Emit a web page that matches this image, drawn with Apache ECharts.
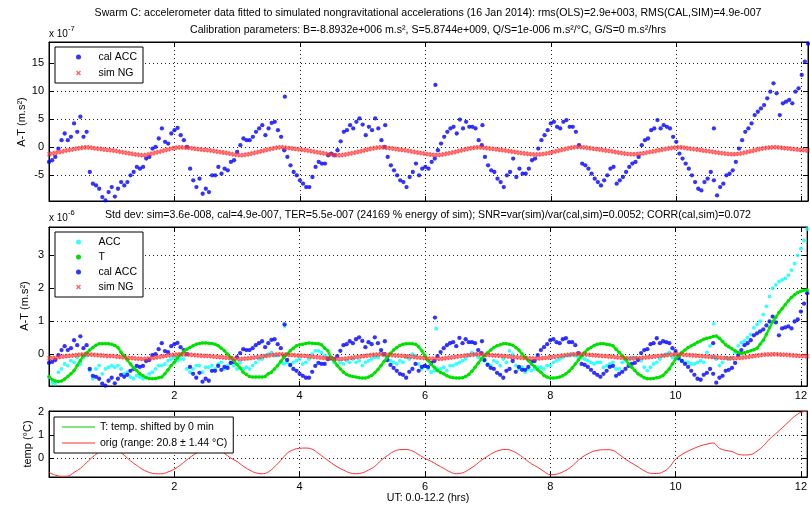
<!DOCTYPE html>
<html><head><meta charset="utf-8">
<script src="https://cdn.jsdelivr.net/npm/echarts@6/dist/echarts.min.js"></script>
<style>html,body{margin:0;padding:0;background:#fff}#c{width:810px;height:506px}</style>
</head><body><div id="c"></div>
<script>
// ---- sampling grid (hours) ----
const dt = 0.05;        // sample step of the accelerometer series
const tempDt = 0.1;     // sample step of the temperature series
const xMax = 12.1;
const xTicks = [0, 2, 4, 6, 8, 10, 12];
const xTickLabels = [2, 4, 6, 8, 10, 12];
const topTicks = [-5, 0, 5, 10, 15];
const midTicks = [0, 1, 2, 3];
const botTicks = [0, 1, 2];

// cal ACC, units 1e-7 m/s^2 (top panel); the middle panel shows the same in 1e-6
const calAcc = [
 -2.7,-2.4,-1.8,-0.3,1.2,2.4,1.2,1.8,4.2,2.7,
 5.4,1.8,2.7,-4.5,-6.6,-6.9,-7.5,-9.0,-9.6,-8.1,
 -7.2,-8.9,-7.5,-6.3,-6.9,-6.3,-5.1,-4.5,-3.6,-3.9,
 -3.6,-2.1,-1.8,-0.3,0.0,1.5,3.3,0.9,0.6,2.4,
 3.0,3.4,2.1,1.2,0.0,-3.9,-6.0,-7.2,-5.7,-8.4,
 -7.5,-8.1,-5.1,-5.1,-3.6,-4.8,-3.9,-4.2,-2.7,-2.4,
 -0.9,0.3,1.5,1.2,1.2,1.8,2.7,3.3,3.9,2.1,
 3.3,4.3,4.5,3.0,1.8,-0.6,-1.8,-3.3,-4.5,-5.1,
 -6.0,-6.6,-7.2,-7.2,-5.4,-3.6,-2.7,-3.0,-3.0,-1.5,
 -1.2,-1.5,-0.6,1.0,2.7,3.0,3.9,3.3,4.5,5.1,
 4.0,2.1,3.6,3.0,5.1,3.3,1.2,0.0,-1.8,-3.3,
 -4.2,-5.1,-6.0,-6.3,-7.2,-5.4,-4.5,-3.0,-5.1,-3.9,
 -3.6,-3.9,-2.7,-2.1,-0.6,0.6,1.8,2.7,3.3,3.6,
 2.4,4.9,3.3,4.5,3.6,3.6,3.3,1.2,0.3,-1.8,
 -3.3,-4.2,-4.5,-5.7,-6.3,-7.2,-5.1,-4.5,-2.1,-5.4,
 -3.9,-4.8,-4.8,-3.9,-2.4,-2.1,-0.3,1.2,2.1,3.0,
 4.2,4.5,3.6,3.3,4.5,4.8,3.6,3.6,2.7,0.3,
 -3.0,-3.3,-3.9,-4.8,-5.7,-6.3,-6.9,-6.0,-5.1,-3.9,
 -3.6,-6.6,-6.0,-5.4,-4.5,-3.6,-3.0,-2.7,-1.8,0.3,
 1.2,1.5,3.0,3.3,4.8,3.3,3.9,3.6,3.3,1.8,
 0.9,-1.2,-2.1,-3.0,-3.9,-5.1,-6.3,-7.5,-7.8,-6.3,
 -5.7,-4.5,-6.0,-8.7,-7.2,-6.6,-5.1,-4.8,-4.2,-2.7,
 -0.3,1.2,2.7,3.3,4.2,5.7,6.3,6.9,7.5,8.7,
 9.9,11.4,9.6,5.7,7.8,8.1,8.4,7.8,9.9,10.5,
 12.9,15.3,18.5
];
const calAccOutliers = [[3.76, 9.0], [5.36, 3.9], [6.16, 11.1], [6.91, 3.9], [10.6, 3.3]];

// sim NG, units 1e-7 m/s^2
const simNG = [
 -1.3,-1.2,-1.1,-0.95,-0.85,-0.7,-0.6,-0.5,-0.4,-0.3,-0.2,-0.12,-0.08,
 -0.12,-0.2,-0.28,-0.35,-0.42,-0.5,-0.56,-0.62,-0.7,-0.8,-0.9,-1.0,-1.1,-1.2,-1.3,-1.38,-1.45,-1.5,
 -1.45,-1.32,-1.18,-1.02,-0.9,-0.75,-0.6,-0.45,-0.3,-0.2,-0.13,-0.08,
 -0.1,-0.15,-0.22,-0.3,-0.36,-0.42,-0.5,-0.56,-0.62,-0.7,-0.78,-0.86,-0.95,-1.05,-1.15,-1.25,-1.35,-1.42,-1.48,
 -1.45,-1.38,-1.28,-1.15,-1.0,-0.88,-0.75,-0.6,-0.45,-0.32,-0.2,-0.12,-0.08,
 -0.12,-0.18,-0.25,-0.32,-0.4,-0.46,-0.54,-0.62,-0.7,-0.8,-0.9,-1.0,-1.1,-1.2,-1.3,-1.38,-1.44,-1.5,
 -1.48,-1.42,-1.32,-1.2,-1.08,-0.95,-0.82,-0.68,-0.55,-0.42,-0.3,-0.2,-0.12,-0.05,
 -0.1,-0.18,-0.26,-0.34,-0.42,-0.5,-0.58,-0.66,-0.75,-0.85,-0.95,-1.05,-1.15,-1.25,-1.33,-1.4,-1.45,
 -1.45,-1.4,-1.32,-1.2,-1.08,-0.95,-0.82,-0.68,-0.55,-0.42,-0.3,-0.2,-0.12,-0.08,
 -0.12,-0.18,-0.25,-0.32,-0.4,-0.46,-0.54,-0.62,-0.7,-0.78,-0.86,-0.95,-1.05,-1.12,-1.2,-1.28,-1.33,-1.35,
 -1.35,-1.3,-1.22,-1.12,-1.0,-0.88,-0.75,-0.6,-0.46,-0.32,-0.2,-0.1,-0.03,0.0,
 -0.05,-0.12,-0.2,-0.28,-0.36,-0.44,-0.52,-0.6,-0.68,-0.76,-0.85,-0.95,-1.05,-1.15,-1.22,-1.28,-1.32,
 -1.3,-1.25,-1.18,-1.08,-0.98,-0.88,-0.78,-0.66,-0.55,-0.44,-0.34,-0.24,-0.16,-0.1,-0.08,
 -0.12,-0.2,-0.28,-0.36,-0.44,-0.52,-0.6,-0.68,-0.76,-0.84,-0.92,-1.0,-1.08,-1.16,-1.22,-1.28,-1.3,
 -1.28,-1.22,-1.12,-1.0,-0.88,-0.75,-0.6,-0.46,-0.34,-0.24,-0.16,-0.1,-0.06,
 -0.08,-0.12,-0.18,-0.24,-0.3,-0.36,-0.42,-0.5,-0.56,-0.62,-0.68
];

// ACC (raw), units 1e-6 m/s^2
const acc = [
 -0.7,-0.88,-0.9,-0.55,-0.45,-0.3,-0.35,-0.2,-0.25,-0.1,
 -0.3,-0.1,-0.05,-0.5,-0.75,-0.45,-0.35,-0.6,-0.45,-0.4,
 -0.35,-0.4,-0.35,-0.45,-0.6,-0.55,-0.7,-0.75,-0.65,-0.7,
 -0.75,-0.7,-0.6,-0.55,-0.45,-0.35,-0.35,-0.3,-0.2,-0.15,
 -0.1,-0.2,-0.15,-0.15,-0.45,-0.55,-0.45,-0.35,-0.35,-0.55,
 -0.4,-0.4,-0.35,-0.45,-0.3,-0.25,-0.45,-0.35,-0.25,-0.35,
 -0.45,-0.25,-0.45,-0.4,-0.45,-0.35,-0.25,-0.15,-0.15,-0.05,
 0.0,0.05,-0.05,-0.05,-0.25,-0.3,-0.25,-0.35,-0.25,-0.2,
 -0.15,-0.3,-0.25,-0.15,0.0,0.1,0.1,0.05,-0.05,-0.1,
 -0.15,-0.25,-0.35,-0.25,-0.3,-0.2,-0.25,-0.15,-0.25,-0.2,
 -0.35,-0.25,-0.2,-0.15,-0.1,-0.1,0.05,-0.05,-0.1,-0.2,
 -0.25,-0.3,-0.2,-0.25,-0.1,-0.15,0.0,-0.05,-0.3,-0.45,
 -0.35,-0.45,-0.55,-0.5,-0.45,-0.45,-0.4,-0.5,-0.35,-0.35,
 -0.3,-0.25,-0.2,-0.15,-0.05,0.05,0.0,-0.1,-0.15,-0.2,
 -0.3,-0.35,-0.2,-0.25,-0.35,-0.15,-0.25,0.1,0.0,-0.35,
 -0.45,-0.4,-0.55,-0.45,-0.5,-0.45,-0.4,-0.4,-0.45,-0.35,
 -0.35,-0.25,-0.2,-0.15,-0.1,-0.05,-0.05,0.0,-0.05,-0.1,
 -0.1,-0.15,-0.2,-0.25,-0.3,-0.25,-0.25,-0.4,-0.35,-0.3,
 -0.25,-0.45,-0.45,-0.25,-0.2,-0.15,-0.1,-0.1,-0.15,-0.2,
 -0.4,-0.5,-0.4,-0.3,-0.25,-0.15,-0.05,0.0,0.05,-0.1,
 -0.05,-0.15,-0.2,-0.25,-0.25,-0.3,-0.3,-0.25,-0.2,-0.25,
 0.05,0.25,-0.1,-0.15,-0.35,-0.25,-0.1,-0.15,-0.1,0.05,
 0.25,0.35,0.4,0.5,0.6,0.8,0.9,1.0,1.2,1.45,
 1.75,2.0,2.1,2.2,2.25,2.3,2.4,2.55,2.75,3.0,
 3.2,3.45,3.8
];
const accOutliers = [[3.76, 0.85], [6.18, 0.77], [10.61, 0.92]];

// T (temperature term), units 1e-6 m/s^2
const tTerm = [
 -0.68,-0.78,-0.82,-0.83,-0.82,-0.76,-0.68,-0.6,-0.5,-0.35,
 -0.2,-0.05,0.03,0.12,0.2,0.27,0.31,0.31,0.31,0.31,
 0.3,0.26,0.2,0.05,-0.05,-0.18,-0.3,-0.42,-0.5,-0.6,
 -0.66,-0.72,-0.74,-0.75,-0.74,-0.72,-0.7,-0.6,-0.48,-0.35,
 -0.25,-0.12,-0.02,0.08,0.15,0.2,0.25,0.3,0.32,0.34,
 0.34,0.33,0.32,0.3,0.25,0.18,0.1,0.0,-0.1,-0.2,
 -0.32,-0.42,-0.55,-0.62,-0.68,-0.7,-0.7,-0.7,-0.7,-0.68,
 -0.6,-0.55,-0.45,-0.35,-0.22,-0.1,0.0,0.1,0.18,0.25,
 0.28,0.3,0.32,0.34,0.33,0.32,0.31,0.28,0.18,0.1,
 -0.1,-0.2,-0.35,-0.45,-0.55,-0.62,-0.66,-0.68,-0.7,-0.72,
 -0.73,-0.73,-0.7,-0.65,-0.57,-0.47,-0.35,-0.22,-0.1,0.02,
 0.12,0.2,0.26,0.3,0.31,0.31,0.31,0.3,0.22,0.1,
 -0.05,-0.2,-0.32,-0.4,-0.5,-0.56,-0.6,-0.66,-0.7,-0.72,
 -0.73,-0.73,-0.72,-0.68,-0.62,-0.52,-0.4,-0.28,-0.15,-0.05,
 0.04,0.12,0.2,0.25,0.28,0.31,0.31,0.3,0.27,0.2,
 0.12,0.0,-0.1,-0.2,-0.3,-0.38,-0.48,-0.55,-0.65,-0.7,
 -0.73,-0.73,-0.72,-0.7,-0.66,-0.6,-0.52,-0.42,-0.3,-0.18,
 -0.05,0.05,0.15,0.2,0.26,0.3,0.31,0.31,0.3,0.28,
 0.25,0.15,0.05,-0.05,-0.15,-0.3,-0.4,-0.5,-0.6,-0.66,
 -0.72,-0.75,-0.75,-0.74,-0.72,-0.7,-0.65,-0.55,-0.45,-0.3,
 -0.15,-0.05,0.05,0.12,0.2,0.25,0.3,0.36,0.4,0.45,
 0.48,0.5,0.53,0.55,0.48,0.38,0.28,0.22,0.16,0.1,
 0.05,0.02,0.04,0.07,0.1,0.13,0.18,0.3,0.42,0.6,
 0.8,0.98,1.12,1.26,1.38,1.5,1.62,1.72,1.8,1.87,
 1.91,1.94,1.95
];

// temperature (°C about mean), step 0.1 h
const temp = [
 -0.62,-0.74,-0.79,-0.78,-0.62,-0.45,-0.2,0.05,0.25,0.38,
 0.42,0.32,0.12,-0.12,-0.32,-0.5,-0.62,-0.68,-0.68,-0.6,
 -0.48,-0.3,-0.08,0.12,0.28,0.38,0.42,0.38,0.2,0.0,
 -0.15,-0.35,-0.52,-0.64,-0.68,-0.6,-0.38,-0.1,0.2,0.36,
 0.42,0.43,0.38,0.2,0.0,-0.2,-0.38,-0.52,-0.64,-0.68,
 -0.64,-0.52,-0.36,-0.1,0.1,0.28,0.36,0.37,0.3,0.15,
 -0.02,-0.14,-0.3,-0.45,-0.6,-0.68,-0.64,-0.5,-0.32,-0.1,
 0.08,0.24,0.34,0.37,0.3,0.15,-0.05,-0.25,-0.4,-0.58,
 -0.72,-0.7,-0.6,-0.45,-0.22,0.02,0.18,0.3,0.35,0.36,
 0.33,0.15,-0.05,-0.22,-0.38,-0.55,-0.66,-0.67,-0.6,-0.4,
 -0.05,0.15,0.3,0.42,0.53,0.6,0.65,0.42,0.33,0.28,
 0.16,0.13,0.15,0.3,0.52,0.82,1.05,1.3,1.55,1.8,
 1.97,2.02
];

// ---- text ----
const title1 = 'Swarm C: accelerometer data fitted to simulated nongravitational accelerations (16 Jan 2014): rms(OLS)=2.9e+003, RMS(CAL,SIM)=4.9e-007';
const title2 = 'Calibration parameters: B=-8.8932e+006 m.s\u00b2, S=5.8744e+009, Q/S=1e-006 m.s\u00b2/\u00b0C, G/S=0 m.s\u00b2/hrs';
const title3 = 'Std dev: sim=3.6e-008, cal=4.9e-007, TER=5.5e-007 (24169 % energy of sim); SNR=var(sim)/var(cal,sim)=0.0052; CORR(cal,sim)=0.072';
const legT = 'T: temp. shifted by 0 min';
const legOrig = 'orig (range: 20.8 \u00b1 1.44 \u00b0C)';

const FONT = '"Liberation Sans", Arial, Helvetica, sans-serif';
const XPATH = 'path://M0,2L2,0L5,3L8,0L10,2L7,5L10,8L8,10L5,7L2,10L0,8L3,5Z';

const toPts = (arr, step, scale) => arr.map((v, i) => [+(i * step).toFixed(2), v * scale]);

function xAxes(g, showLabels) {
  return [
    { type: 'value', gridIndex: g, min: 0, max: xMax, position: 'bottom',
      axisLine: { show: true, onZero: false, lineStyle: { color: '#000' } },
      axisTick: { show: true, inside: true, length: 5, customValues: xTicks, lineStyle: { color: '#000' } },
      axisLabel: { show: showLabels, customValues: xTickLabels, color: '#000', fontSize: 11, fontFamily: FONT, margin: 4 },
      splitLine: { show: true, lineStyle: { color: '#222', type: [1, 3], width: 1 } } },
    { type: 'value', gridIndex: g, min: 0, max: xMax, position: 'top',
      axisLine: { show: true, onZero: false, lineStyle: { color: '#000' } },
      axisTick: { show: true, inside: true, length: 5, customValues: xTicks, lineStyle: { color: '#000' } },
      axisLabel: { show: false }, splitLine: { show: false } }
  ];
}
function yAxes(g, min, max, ticks) {
  return [
    { type: 'value', gridIndex: g, min: min, max: max, position: 'left',
      axisLine: { show: true, onZero: false, lineStyle: { color: '#000' } },
      axisTick: { show: true, inside: true, length: 5, customValues: ticks, lineStyle: { color: '#000' } },
      axisLabel: { show: true, customValues: ticks, color: '#000', fontSize: 11, fontFamily: FONT, margin: 5 },
      splitLine: { show: true, lineStyle: { color: '#222', type: [1, 3], width: 1 } } },
    { type: 'value', gridIndex: g, min: min, max: max, position: 'right',
      axisLine: { show: true, onZero: false, lineStyle: { color: '#000' } },
      axisTick: { show: true, inside: true, length: 5, customValues: ticks, lineStyle: { color: '#000' } },
      axisLabel: { show: false }, splitLine: { show: false } }
  ];
}

const legendBase = {
  orient: 'vertical', backgroundColor: '#fff', borderColor: '#000', borderWidth: 1, borderRadius: 0,
  itemWidth: 30, itemHeight: 5, align: 'left',
  textStyle: { color: '#000', fontSize: 10.5, fontFamily: FONT, lineHeight: 14 },
  selectedMode: false
};

function txt(x, y, text, size, extra) {
  return { type: 'text', x: x, y: y, silent: true,
    style: Object.assign({ text: text, fill: '#000', font: size + 'px ' + FONT,
      textAlign: 'center', textVerticalAlign: 'middle', align: 'center', verticalAlign: 'middle' }, extra || {}) };
}

// dense sim NG samples drawn as x markers joined by a light band
function simBand(xi, yi, scale) {
  return { name: 'sim NG', type: 'line', xAxisIndex: xi, yAxisIndex: yi, symbol: XPATH, symbolSize: 5, showSymbol: true,
    showAllSymbol: true, smooth: false,
    lineStyle: { color: 'rgba(255,110,110,0.5)', width: 4 },
    itemStyle: { color: 'rgba(255,20,20,0.45)' }, data: toPts(simNG, dt, scale) };
}

const chart = echarts.init(document.getElementById('c'), null, { renderer: 'canvas' });
const option = {
  animation: false,
  backgroundColor: '#fff',
  grid: [
    { left: 49, right: 2, top: 42, height: 159, show: true, borderColor: '#000', borderWidth: 1, backgroundColor: 'transparent' },
    { left: 49, right: 2, top: 227, height: 159, show: true, borderColor: '#000', borderWidth: 1, backgroundColor: 'transparent' },
    { left: 49, right: 2, top: 411, height: 66, show: true, borderColor: '#000', borderWidth: 1, backgroundColor: 'transparent' }
  ],
  xAxis: [].concat(xAxes(0, false), xAxes(1, true), xAxes(2, true)),
  yAxis: [].concat(yAxes(0, -9.7, 18.8, topTicks), yAxes(1, -0.97, 3.86, midTicks), yAxes(2, -0.82, 2.03, botTicks)),
  legend: [
    Object.assign({}, legendBase, { left: 55, top: 47, padding: [3, 6, 3, 21], itemGap: 2,
      data: [{ name: 'cal ACC', icon: 'circle' }, { name: 'sim NG', icon: XPATH, itemStyle: { color: 'rgba(255,0,0,0.6)' } }] }),
    Object.assign({}, legendBase, { left: 55, top: 232, padding: [3, 6, 3, 21], itemGap: 1,
      data: [{ name: 'ACC', icon: 'circle' }, { name: 'T', icon: 'circle', itemStyle: { color: '#00e000' } },
             { name: 'cal ACC', icon: 'circle' }, { name: 'sim NG', icon: XPATH, itemStyle: { color: 'rgba(255,0,0,0.6)' } }] }),
    Object.assign({}, legendBase, { left: 54, top: 417, padding: [3, 6, 3, 8], itemGap: 2, itemWidth: 33, itemHeight: 1,
      data: [{ name: legT, icon: 'rect', itemStyle: { color: '#00cc00', opacity: 1 } },
             { name: legOrig, icon: 'rect', itemStyle: { color: '#ff3030', opacity: 1 } }] })
  ],
  graphic: [
    txt(428, 13, title1, 10.6),
    txt(428, 30, title2, 10.6),
    txt(49, 34, 'x 10', 10, { textAlign: 'left', align: 'left' }),
    txt(68, 29, '-7', 7.5, { textAlign: 'left', align: 'left' }),
    txt(428, 215, title3, 10.6),
    txt(49, 218, 'x 10', 10, { textAlign: 'left', align: 'left' }),
    txt(68, 213, '-6', 7.5, { textAlign: 'left', align: 'left' }),
    txt(428, 498, 'UT: 0.0-12.2 (hrs)', 10.6),
    Object.assign(txt(22, 122, 'A-T (m.s\u00b2)', 11), { rotation: Math.PI / 2 }),
    Object.assign(txt(25, 306, 'A-T (m.s\u00b2)', 11), { rotation: Math.PI / 2 }),
    Object.assign(txt(28, 444, 'temp (\u00b0C)', 11), { rotation: Math.PI / 2 })
  ],
  series: [
    { name: 'cal ACC', type: 'scatter', xAxisIndex: 0, yAxisIndex: 0, symbol: 'circle', symbolSize: 4.3,
      itemStyle: { color: '#0000ff' }, data: toPts(calAcc, dt, 1).concat(calAccOutliers) },
    simBand(0, 0, 1),

    { name: 'ACC', type: 'scatter', xAxisIndex: 2, yAxisIndex: 2, symbol: 'circle', symbolSize: 3.8,
      itemStyle: { color: '#00ffff' }, data: toPts(acc, dt, 1).concat(accOutliers) },
    { name: 'T', type: 'line', xAxisIndex: 2, yAxisIndex: 2, symbol: 'circle', symbolSize: 3.5, showSymbol: true,
      showAllSymbol: true, smooth: false,
      lineStyle: { color: '#00ee00', width: 2.5 }, itemStyle: { color: '#00e000' }, data: toPts(tTerm, dt, 1) },
    { name: 'cal ACC', type: 'scatter', xAxisIndex: 2, yAxisIndex: 2, symbol: 'circle', symbolSize: 4.3,
      itemStyle: { color: '#0000ff' }, data: toPts(calAcc, dt, 0.1).concat(calAccOutliers.map(p => [p[0], p[1] * 0.1])) },
    simBand(2, 2, 0.1),

    { name: legT, type: 'line', xAxisIndex: 4, yAxisIndex: 4, symbol: 'none', smooth: 0.4,
      lineStyle: { color: '#00cc00', width: 1, opacity: 0 }, itemStyle: { color: '#00cc00' }, data: toPts(temp, tempDt, 1) },
    { name: legOrig, type: 'line', xAxisIndex: 4, yAxisIndex: 4, symbol: 'none', smooth: 0.4,
      lineStyle: { color: '#ff3030', width: 1 }, itemStyle: { color: '#ff3030' }, data: toPts(temp, tempDt, 1) }
  ]
};
chart.setOption(option);
</script>
</body></html>
